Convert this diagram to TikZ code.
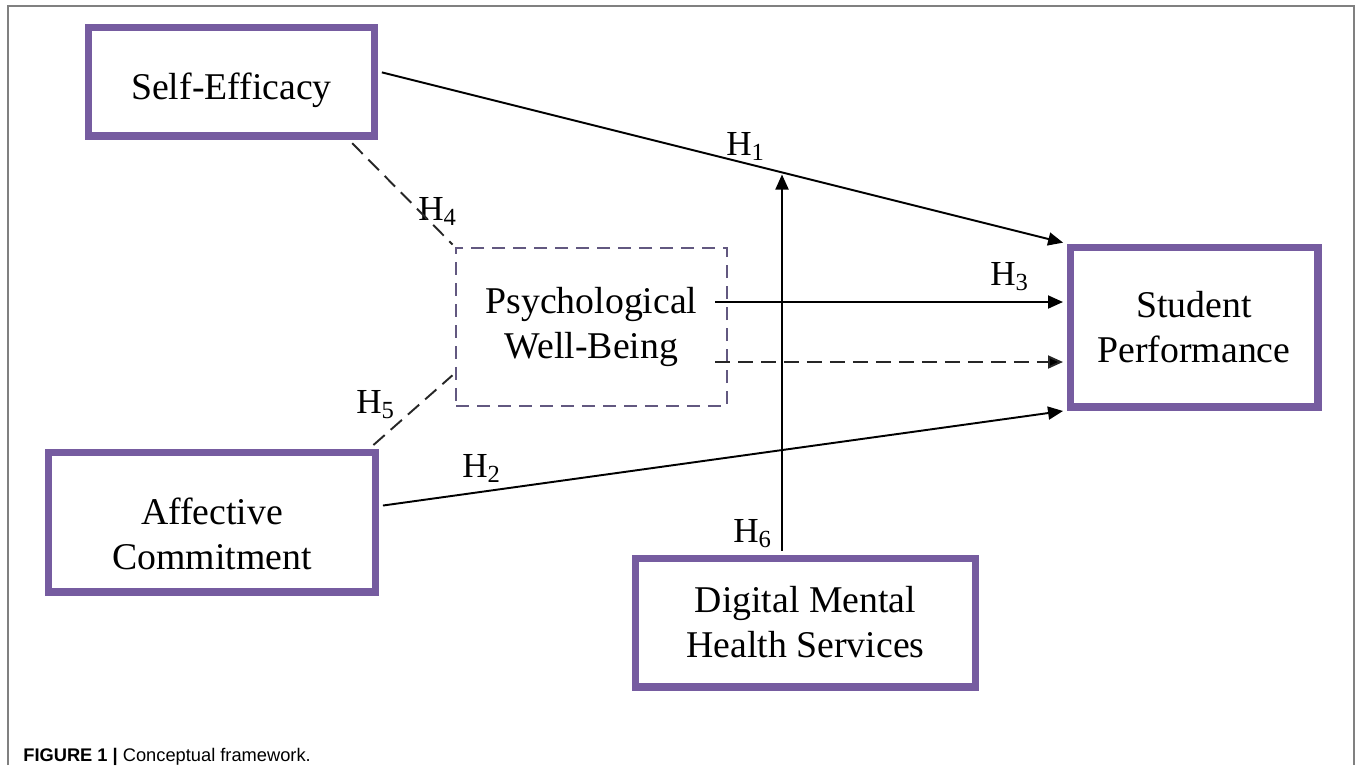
\documentclass[tikz,border=0pt]{standalone}
\usepackage{fontspec}
\setmainfont{Liberation Serif}
\newfontfamily\capfont{Liberation Sans}
\usepackage{tikz}
\usetikzlibrary{arrows.meta}
\definecolor{boxpurple}{RGB}{118,92,160}
\definecolor{dashpurple}{RGB}{98,88,128}
\definecolor{framegray}{RGB}{128,128,128}

\begin{document}
\begin{tikzpicture}[x=0.02cm, y=-0.02cm, >={Triangle[length=0.3cm,width=0.26cm]},
		var_style/.style={rectangle,draw=boxpurple,line width=4pt,inner sep=0pt,align=center,font=\fontsize{21.5}{25.6}\selectfont},
		med_style/.style={rectangle,draw=dashpurple,line width=1.1pt,dash pattern=on 0.26cm off 0.16cm,inner sep=0pt,align=center,font=\fontsize{21.5}{25.6}\selectfont},
		edge_style/.style={draw=black,line width=1.1pt,shorten >=2pt,shorten <=2pt},
		link_style/.style={draw=black!85,line width=1.1pt,dash pattern=on 0.3cm off 0.16cm,shorten >=2pt,shorten <=3pt},
		hyp_style/.style={anchor=base west,inner sep=0pt,font=\fontsize{20}{24}\selectfont}]

		\useasboundingbox (0,0) rectangle (1358,765);
		\draw[framegray,line width=1.1pt] (8,765) -- (8,6) -- (1354,6) -- (1354,765);

		\node[var_style,minimum width=5.74cm,minimum height=2.18cm] (se) at (231.5,81.5) {\rule{0pt}{0.9cm}Self-Efficacy};
		\node[med_style,minimum width=5.42cm,minimum height=3.16cm] (pwb) at (591.5,327) {Psychological\\Well-Being};
		\node[var_style,minimum width=6.56cm,minimum height=2.8cm] (ac) at (212,522) {\rule{0pt}{1cm}Affective\\Commitment};
		\node[var_style,minimum width=6.82cm,minimum height=2.58cm] (dmhs) at (805.5,622.5) {Digital Mental\\Health Services};
		\node[var_style,minimum width=4.96cm,minimum height=3.2cm] (sp) at (1194,327) {Student\\Performance};

		\coordinate (m6) at (782,171);
		\coordinate (p3) at (715,302);
		\coordinate (p7) at (715,362);

		\node[hyp_style] (h1) at (726,155) {H\textsubscript{1}};
		\node[hyp_style] (h2) at (462,477) {H\textsubscript{2}};
		\node[hyp_style] (h3) at (990,285) {H\textsubscript{3}};
		\node[hyp_style] (h4) at (418,220) {H\textsubscript{4}};
		\node[hyp_style] (h5) at (356,413) {H\textsubscript{5}};
		\node[hyp_style] (h6) at (733,542) {H\textsubscript{6}};

		\draw[edge_style]  ([yshift=0.2cm]se.east) edge[->] (sp.north west);
		\draw[edge_style]  ([yshift=0.32cm]ac.east) edge[->] (sp.south west);
		\draw[edge_style,shorten <=0pt]  (p3) edge[->] (sp.west |- p3);
		\draw[link_style,shorten <=0pt]  (p7) edge[->] (sp.west |- p7);
		\draw[edge_style]  (dmhs.north -| m6) edge[->] (m6);
		\draw[link_style]  ([xshift=-0.6cm]se.south east) edge (pwb.north west);
		\draw[link_style]  ([xshift=-0.2cm]ac.north east) edge ([yshift=-0.92cm]pwb.west);

		\node[anchor=base west,inner sep=0pt,font=\capfont\fontsize{10.4}{12}\selectfont] (cap) at (23,761) {\textbf{FIGURE 1 |} Conceptual framework.};

\end{tikzpicture}
\end{document}
